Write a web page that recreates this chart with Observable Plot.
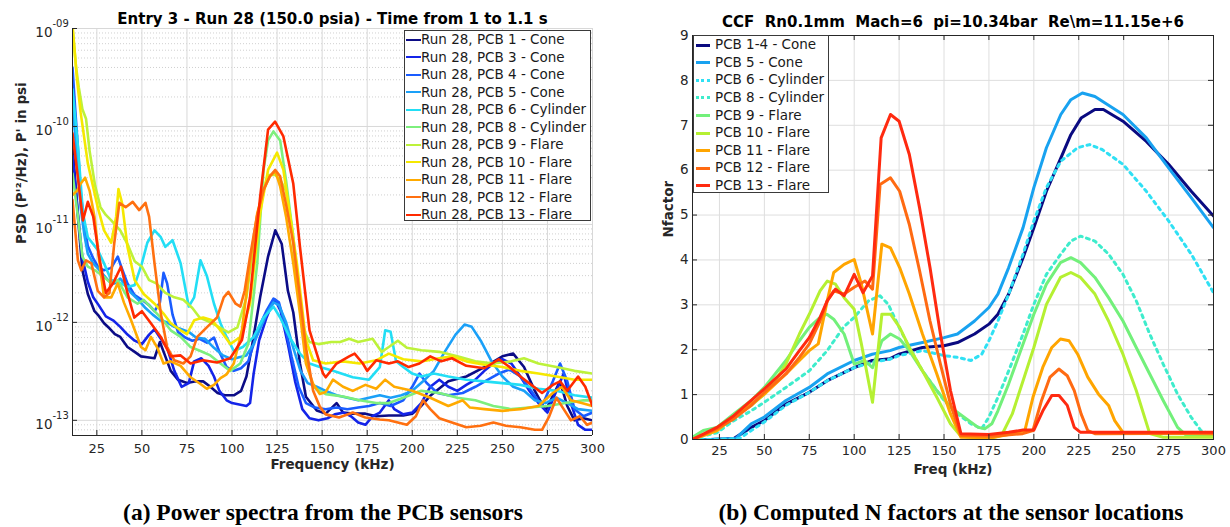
<!DOCTYPE html>
<html>
<head>
<meta charset="utf-8">
<script src="https://cdn.jsdelivr.net/npm/d3@7"></script>
<script src="https://cdn.jsdelivr.net/npm/@observablehq/plot@0.6"></script>
<style>
  html,body{margin:0;padding:0;background:#fff;}
  body{width:1230px;height:527px;position:relative;overflow:hidden;font-family:"DejaVu Sans",Verdana,sans-serif;}
  .panel{position:absolute;top:0;}
  .legend{position:absolute;background:#fff;border:1px solid #3a3a3a;box-sizing:border-box;color:#1a1a1a;}
  .row{position:absolute;white-space:nowrap;}
  .sw{position:absolute;}
  .caption{position:absolute;top:499px;line-height:26px;font-family:"Liberation Serif","Times New Roman",serif;font-weight:bold;font-size:23.5px;white-space:nowrap;transform:translateX(-50%);color:#000;}
</style>
</head>
<body>
<div id="left" class="panel" style="left:0"></div>
<div id="right" class="panel" style="left:615px"></div>
<div id="legL" class="legend"></div>
<div id="legR" class="legend"></div>
<div class="caption" style="left:323px">(a) Power spectra from the PCB sensors</div>
<div class="caption" style="left:951px">(b) Computed N factors at the sensor locations</div>
<script>
// ---------------- data: panel (a) PSD spectra ----------------
const freqTicks = [25, 50, 75, 100, 125, 150, 175, 200, 225, 250, 275, 300];
const psdTicks = [1e-13, 1e-12, 1e-11, 1e-10, 1e-9];
const psdTickBase = "10";
const psdTickExps = ["-13", "-12", "-11", "-10", "-09"];
const nTicks = [0, 1, 2, 3, 4, 5, 6, 7, 8, 9];

const psdNames = ["Run 28, PCB 1 - Cone", "Run 28, PCB 3 - Cone", "Run 28, PCB 4 - Cone", "Run 28, PCB 5 - Cone",
  "Run 28, PCB 6 - Cylinder", "Run 28, PCB 8 - Cylinder", "Run 28, PCB 9 - Flare", "Run 28, PCB 10 - Flare",
  "Run 28, PCB 11 - Flare", "Run 28, PCB 12 - Flare", "Run 28, PCB 13 - Flare"];

const psdPCB1 = [[11.5,6.5e-11],[13,2.8e-11],[14.5,1.2e-11],[17,3.4e-12],[20,1.95e-12],[23.7,1.3e-12],[26,1.17e-12],[29,9.8e-13],[32,8.7e-13],[35,7.6e-13],[38,7.1e-13],[42,5.6e-13],[46,5e-13],[49.5,4.5e-13],[53,4.4e-13],[57,4.3e-13],[60,6.3e-13],[63,4.5e-13],[66,3.2e-13],[70,2.6e-13],[75,2.4e-13],[80,2.5e-13],[84,2.5e-13],[88,2.2e-13],[92,1.9e-13],[96,1.8e-13],[101,1.8e-13],[105,2e-13],[108,2.8e-13],[111,5.6e-13],[115.6,1.8e-12],[120,4.7e-12],[124,8.7e-12],[127.6,6.3e-12],[131,2.1e-12],[134,1.26e-12],[137.7,3.8e-13],[141,1.74e-13],[147,1.26e-13],[152,1.17e-13],[158,1.5e-13],[161.6,1.2e-13],[167,1.17e-13],[174,1.17e-13],[180,1.1e-13],[187,1.12e-13],[195,1.12e-13],[200,1.17e-13],[205,1.4e-13],[210,1.78e-13],[220,2.5e-13],[230,2.8e-13],[240,3.5e-13],[250,4.5e-13],[256,4.8e-13],[262,3.5e-13],[268,2e-13],[274,1.26e-13],[278,1.78e-13],[282,2.5e-13],[286,1.4e-13],[290,1e-13],[295,1.05e-13],[300,1e-13]];
const psdPCB3 = [[11.5,5e-11],[14.5,1.3e-11],[17,4.5e-12],[20,2.6e-12],[23,1.8e-12],[26,1.5e-12],[30,1.15e-12],[34,1.05e-12],[38,9e-13],[42,7.5e-13],[46,6.5e-13],[50,6e-13],[54,7.5e-13],[57,8.5e-13],[60,7e-13],[64,5.5e-13],[68,3.2e-13],[72,2.2e-13],[76,2.4e-13],[79,4e-13],[83,4.3e-13],[87,3.6e-13],[90,2.8e-13],[93,2e-13],[97,1.6e-13],[100,1.5e-13],[104,1.45e-13],[108,1.4e-13],[110,1.5e-13],[112,3e-13],[115,6.5e-13],[119,1.1e-12],[122,1.5e-12],[124,1.7e-12],[127,1.3e-12],[131,6e-13],[135,2.5e-13],[139,1.3e-13],[143,1.05e-13],[148,1e-13],[153,1.05e-13],[157,1.15e-13],[162,1.2e-13],[166,1.1e-13],[170,9.5e-14],[174,9e-14],[178,1.1e-13],[182,1.2e-13],[187,1.6e-13],[190,1.3e-13],[195,1.15e-13],[200,1.2e-13],[205,1.5e-13],[210,2.2e-13],[215,2.6e-13],[220,2.2e-13],[225,2e-13],[230,2.3e-13],[235,2.6e-13],[240,3.2e-13],[245,3.8e-13],[250,4.2e-13],[255,3.8e-13],[260,2.8e-13],[265,2e-13],[270,1.5e-13],[275,1.2e-13],[280,2e-13],[284,3e-13],[288,1.5e-13],[292,9e-14],[296,8e-14],[300,8e-14]];
const psdPCB4 = [[11.5,4e-10],[13,1.5e-10],[14.5,6e-11],[16,2.2e-11],[18,1e-11],[20,6e-12],[23,4.5e-12],[26,3.6e-12],[29,3.4e-12],[33,3.6e-12],[36.6,4.7e-12],[39,3.5e-12],[42,2.5e-12],[46,1.9e-12],[50,1.7e-12],[54,1.5e-12],[57,1.3e-12],[60,1.6e-12],[62,3.2e-12],[64,2.5e-12],[67,1.2e-12],[70,8e-13],[74,7e-13],[78,6.5e-13],[82,6.8e-13],[86,6.2e-13],[90,7e-13],[93,5e-13],[97,3.5e-13],[101,3.2e-13],[105,3.4e-13],[109,4e-13],[112,6e-13],[115,9e-13],[119,1.3e-12],[123,1.75e-12],[126,1.6e-12],[129,1e-12],[133,4.5e-13],[137,2.2e-13],[141,1.5e-13],[146,1.35e-13],[152,1.3e-13],[158,1.35e-13],[164,1.3e-13],[170,1.35e-13],[176,1.4e-13],[182,1.5e-13],[188,1.4e-13],[195,1.6e-13],[200,2.2e-13],[204,3e-13],[208,2.4e-13],[214,1.9e-13],[220,1.8e-13],[228,1.9e-13],[235,2.2e-13],[242,2.6e-13],[248,3e-13],[254,3.3e-13],[260,2.8e-13],[266,2e-13],[272,1.4e-13],[278,2.5e-13],[282,3.8e-13],[286,2.5e-13],[290,1.3e-13],[295,1.1e-13],[300,1.2e-13]];
const psdPCB5 = [[11.5,1.8e-10],[13,8e-11],[14.5,3.5e-11],[16,1.5e-11],[18,8e-12],[20,5e-12],[23,4e-12],[26,3.5e-12],[29,3e-12],[32,2.6e-12],[35,2.5e-12],[38,2.8e-12],[41,2.4e-12],[44,2e-12],[48,1.7e-12],[52,1.4e-12],[56,1.2e-12],[60,1.05e-12],[64,1e-12],[68,9e-13],[72,8.5e-13],[76,8e-13],[80,7e-13],[85,6.8e-13],[90,5.5e-13],[95,4.6e-13],[100,4.2e-13],[104,4.4e-13],[108,4.6e-13],[112,6e-13],[116,9e-13],[120,1.3e-12],[123,1.6e-12],[126,1.5e-12],[130,1e-12],[134,5.5e-13],[138,3.2e-13],[142,2.4e-13],[147,2.2e-13],[152,2e-13],[158,1.8e-13],[164,1.7e-13],[170,1.6e-13],[176,1.7e-13],[182,1.8e-13],[188,1.7e-13],[194,1.8e-13],[200,2e-13],[206,2.5e-13],[212,3.2e-13],[218,5e-13],[224,7.5e-13],[229,9.5e-13],[233,9e-13],[238,6.5e-13],[244,4e-13],[250,2.8e-13],[256,2.2e-13],[262,2e-13],[268,1.6e-13],[274,1.5e-13],[280,1.7e-13],[286,1.5e-13],[292,1.3e-13],[300,1.25e-13]];
const psdPCB6 = [[11.5,2.4e-10],[14.5,6.3e-11],[17.3,1.3e-11],[20,7.4e-12],[25.5,5.5e-12],[29,4e-12],[33,2.7e-12],[36.6,2.6e-12],[42,2.3e-12],[46,2.4e-12],[50,4e-12],[53,6.5e-12],[57,8.7e-12],[60.5,7.4e-12],[63,5.9e-12],[67,6.9e-12],[71.5,4e-12],[76,1.45e-12],[79,1.8e-12],[82.5,4.3e-12],[86,3e-12],[90,1.55e-12],[93.6,9.8e-13],[97,7.1e-13],[101,5.1e-13],[106,5.6e-13],[112,7.1e-13],[117.5,1.12e-12],[123,1.45e-12],[126.7,1.12e-12],[132,7e-13],[137.7,4.8e-13],[143,3.8e-13],[148.7,3.5e-13],[156,3.2e-13],[167,2.75e-13],[176,2.6e-13],[182,3.5e-13],[185,8.3e-13],[188,8e-13],[191,4e-13],[195,3.5e-13],[200,3e-13],[205,2.8e-13],[212,3e-13],[220,2.8e-13],[230,2.6e-13],[240,2.5e-13],[250,2.4e-13],[260,2.3e-13],[270,2.1e-13],[280,2e-13],[290,1.8e-13],[300,1.7e-13]];
const psdPCB8 = [[11.5,3.3e-11],[14.5,1.2e-11],[17,4.7e-12],[20,3.7e-12],[24,3.4e-12],[29,2.9e-12],[33,2.5e-12],[36.6,2.7e-12],[42,1.8e-12],[47.6,1.55e-12],[51,1.7e-12],[57,1.3e-12],[60.5,1.12e-12],[66,8.3e-13],[71.5,7.1e-13],[77,5.6e-13],[82.5,5.1e-13],[88,4.6e-13],[93.6,3.8e-13],[99,3.2e-13],[104.6,3.8e-13],[109,6e-13],[114,4e-12],[117.5,3.6e-11],[120,7.2e-11],[123,8.9e-11],[126.7,7.2e-11],[130,2.8e-11],[134,7.4e-12],[137.7,1.8e-12],[141,4.1e-13],[145,2.2e-13],[152,1.85e-13],[161.6,1.75e-13],[170.8,1.6e-13],[180,1.5e-13],[187,1.5e-13],[195,1.7e-13],[205,2e-13],[215,1.9e-13],[225,1.7e-13],[235,1.6e-13],[245,1.4e-13],[255,1.3e-13],[265,1.35e-13],[275,1.4e-13],[285,1.5e-13],[295,1.6e-13],[300,1.6e-13]];
const psdPCB9 = [[11.5,1e-9],[13.5,4e-10],[15,2.5e-10],[17,1.5e-10],[19,1.2e-10],[21,5.6e-11],[24,2.5e-11],[27,1.5e-11],[30,1.25e-11],[33,1.1e-11],[38,8.7e-12],[42,6.3e-12],[46,4.2e-12],[50,3.7e-12],[54,2.7e-12],[58,2.5e-12],[63,2e-12],[68,1.8e-12],[73,1.7e-12],[78,1.4e-12],[82,1.12e-12],[88,1e-12],[93,8.9e-13],[98,7.9e-13],[103,8.9e-13],[108,1.8e-12],[112,6.3e-12],[116,1.8e-11],[120,3.2e-11],[124,3.2e-11],[127,2.8e-11],[130,2.2e-11],[133,1e-11],[136,2.5e-12],[139,8.9e-13],[143,6.3e-13],[148,6e-13],[155,6.3e-13],[160,6.3e-13],[165,6.8e-13],[170,6.3e-13],[178,6.8e-13],[183,5e-13],[187,5.6e-13],[192,6.5e-13],[197,5.5e-13],[205,5.2e-13],[215,5e-13],[225,4.5e-13],[235,4e-13],[245,3.8e-13],[255,4e-13],[262,4.3e-13],[270,3.8e-13],[280,3.5e-13],[290,3.2e-13],[300,3e-13]];
const psdPCB10 = [[11.5,1.1e-9],[14,3e-10],[16,1.4e-10],[20,4.2e-11],[25.5,1.5e-11],[29,8.7e-12],[33,6.5e-12],[35.7,1.2e-11],[37,2.3e-11],[39,1.65e-11],[42,5.9e-12],[46,2.7e-12],[51,1.95e-12],[57,1.55e-12],[62,1.23e-12],[66,9.8e-13],[71.5,8.3e-13],[75,7.6e-13],[79,1.05e-12],[84,1.12e-12],[89,1.05e-12],[93.6,8.3e-13],[99,6e-13],[104.6,7.1e-13],[110,1.55e-12],[115.6,1.3e-11],[120,3.6e-11],[125,5.4e-11],[128.5,3.6e-11],[132,1.3e-11],[136,4e-12],[141,6.6e-13],[145,4.1e-13],[152,3.8e-13],[161.6,4e-13],[170.8,3.8e-13],[180,4.1e-13],[187,4.8e-13],[195,4.2e-13],[205,4e-13],[215,4.3e-13],[222,4.5e-13],[230,4e-13],[240,3.7e-13],[250,3.5e-13],[260,3.2e-13],[270,3e-13],[280,2.8e-13],[290,2.6e-13],[300,2.6e-13]];
const psdPCB11 = [[11.5,2e-11],[14,2.2e-11],[16,2.6e-11],[18.5,3e-11],[21,2.2e-11],[23.7,1.2e-11],[26.5,4e-12],[29,1.8e-12],[33,1.8e-12],[36.6,2.5e-12],[40,1.6e-12],[44,1.05e-12],[49.5,5.6e-13],[52,5.2e-13],[55,7.1e-13],[58.6,5.5e-13],[62,3.8e-13],[66,4e-13],[71.5,3.6e-13],[77,2.75e-13],[82.5,2.35e-13],[86,2.1e-13],[90,2.3e-13],[93.6,2.7e-13],[97,2.95e-13],[101,3.8e-13],[105.5,8.3e-13],[110,4e-12],[114,1.3e-11],[117.5,2.25e-11],[121,3.1e-11],[124,3.5e-11],[126.7,2.45e-11],[130,1.2e-11],[134,4e-12],[137.7,1.23e-12],[141,3.8e-13],[145,2.35e-13],[148.7,1.86e-13],[152,1.95e-13],[156,2.6e-13],[161.6,2.2e-13],[167,2e-13],[174,2.3e-13],[180,2.1e-13],[185,2.6e-13],[190,2.2e-13],[200,2e-13],[210,1.7e-13],[220,1.4e-13],[228,1.6e-13],[232,1.35e-13],[240,1.3e-13],[250,1.25e-13],[260,1.3e-13],[270,1.4e-13],[278,1.9e-13],[283,2.2e-13],[288,1.6e-13],[294,1.5e-13],[300,1.4e-13]];
const psdPCB12 = [[11.5,1.78e-11],[14.5,4.3e-12],[16.4,3.4e-12],[19,4.3e-12],[22,4e-12],[25.5,2.1e-12],[29,1.8e-12],[32,2e-12],[34.7,6.5e-12],[37.5,1.66e-11],[41,1.5e-11],[44.9,1.7e-11],[48.5,1.4e-11],[52,1.66e-11],[54,1.2e-11],[57,4e-12],[60.5,1.23e-12],[64,5.6e-13],[68,4.1e-13],[73,3.8e-13],[77,4.5e-13],[80.7,7.1e-13],[86,8.9e-13],[91.7,1.12e-12],[95.4,1.8e-12],[98,2.05e-12],[102,1.55e-12],[104.6,1.45e-12],[107,2.1e-12],[110,4.7e-12],[113.8,1.2e-11],[117.5,2.25e-11],[121,3.1e-11],[124,3.6e-11],[126.7,3.1e-11],[130,1.6e-11],[134,6.5e-12],[137.7,1.8e-12],[141,5.6e-13],[145,2e-13],[148.7,1.38e-13],[152,1.15e-13],[159.4,1.07e-13],[167,1.2e-13],[174,1.07e-13],[182,1.02e-13],[187,1e-13],[192,9.5e-14],[197,9e-14],[202,1.1e-13],[206,1.6e-13],[210,1.3e-13],[215,1.05e-13],[222,9.5e-14],[230,8.5e-14],[238,8.8e-14],[245,9.5e-14],[252,8.8e-14],[260,8.5e-14],[268,8e-14],[272,8e-14],[276,1.1e-13],[280,1.7e-13],[284,1.3e-13],[288,1e-13],[293,1.1e-13],[297,9e-14],[300,9.5e-14]];
const psdPCB13 = [[11.5,8.5e-11],[14.5,3e-11],[17.3,1.1e-11],[20,1.7e-11],[23,1.2e-11],[26,5e-12],[30,2e-12],[34,2.5e-12],[38.4,3.7e-12],[42,2e-12],[45.8,1.12e-12],[50,1.3e-12],[55,9.8e-13],[60.5,7.1e-13],[66,4.5e-13],[71.5,4.6e-13],[77,3.8e-13],[84,4.1e-13],[91.7,3.9e-13],[99,4.3e-13],[105.5,6.6e-13],[110,1.8e-12],[115.6,1.9e-11],[120,9.3e-11],[123.9,1.12e-10],[128.5,7.9e-11],[134,2.6e-11],[137.7,5.9e-12],[143,8.3e-13],[150.5,3e-13],[152,2.75e-13],[158,3.8e-13],[165,4.5e-13],[168,4.8e-13],[172.6,3.8e-13],[175,3.2e-13],[180,4.1e-13],[187,3.8e-13],[192,4e-13],[198,3.5e-13],[204,3.8e-13],[210,4.5e-13],[216,4e-13],[222,4.3e-13],[230,3.6e-13],[240,3.4e-13],[248,4.2e-13],[254,3.5e-13],[260,2.8e-13],[266,2.3e-13],[272,1.9e-13],[278,2.3e-13],[282,2.5e-13],[286,2e-13],[292,2.8e-13],[296,2.2e-13],[300,1.4e-13]];

// ---------------- data: panel (b) N factors ----------------
const nNames = ["PCB 1-4 - Cone", "PCB 5 - Cone", "PCB 6 - Cylinder", "PCB 8 - Cylinder", "PCB 9 - Flare",
  "PCB 10 - Flare", "PCB 11 - Flare", "PCB 12 - Flare", "PCB 13 - Flare"];
const nPCB1to4 = [[10,0],[20,0],[33,0.02],[42.7,0.27],[50,0.42],[62,0.79],[75,1.05],[85,1.31],[100,1.6],[110,1.76],[120,1.8],[125,1.9],[138,2.05],[150,2.09],[157.5,2.16],[167,2.35],[175,2.57],[180,2.79],[186,3.24],[194,4.05],[200,4.72],[207,5.53],[215,6.27],[220.6,6.79],[226.3,7.16],[234,7.35],[238.7,7.35],[249.6,7.09],[262.6,6.64],[275,6.13],[287.6,5.53],[300,4.98]];
const nPCB5 = [[10,0],[20,0],[34,0.02],[42.7,0.35],[50,0.5],[62,0.87],[75,1.16],[85,1.46],[100,1.76],[110,1.9],[120,1.98],[125,2.05],[138,2.16],[150,2.27],[157.5,2.35],[167,2.64],[175,2.94],[180,3.24],[186,3.83],[194,4.72],[200,5.61],[207,6.5],[215,7.24],[220.6,7.57],[227,7.72],[234,7.64],[249.6,7.24],[262.6,6.72],[275,6.05],[287.6,5.39],[300,4.72]];
const nPCB6 = [[10,0],[20,0],[36,0.02],[42.7,0.2],[50,0.39],[62,0.76],[75,1.05],[85,1.31],[100,1.6],[110,1.72],[120,1.79],[125,1.87],[138,1.98],[150,1.87],[157.5,1.83],[165,1.76],[171,1.9],[175,2.2],[180,2.64],[186,3.24],[194,4.13],[200,4.87],[207,5.61],[215,6.2],[224.4,6.5],[231,6.57],[238,6.46],[249.6,6.13],[262.6,5.53],[275,4.87],[287.6,4.13],[300,3.27]];
const nPCB8 = [[10,0.05],[16,0.08],[23.6,0.15],[33,0.42],[42.7,0.64],[50,0.83],[62,1.16],[75,1.53],[85,1.98],[94,2.5],[100,2.72],[108,3.09],[114.4,3.2],[119,3.01],[125,2.5],[130.7,2.05],[138,1.53],[146,1.09],[150,0.87],[157.5,0.57],[165,0.35],[171,0.24],[175,0.5],[180,0.94],[186,1.53],[194,2.35],[200,3.01],[207,3.68],[215,4.13],[220.6,4.42],[226,4.53],[234,4.42],[241.6,4.13],[249.6,3.68],[257,3.09],[264.5,2.35],[272,1.68],[280,1.01],[287.5,0.5],[293,0.2],[300,0.09]];
const nPCB9 = [[10,0.05],[16,0.2],[23.6,0.27],[33,0.57],[42.7,0.87],[50,1.16],[56,1.46],[62,1.76],[69.5,2.2],[75,2.5],[81,2.72],[84.8,2.79],[88.6,2.68],[94.4,2.35],[100,1.68],[105.8,1.76],[110.2,1.6],[115.4,2.2],[120.2,2.35],[125.3,2.24],[130.7,1.98],[138,1.53],[146,1.09],[153.6,0.72],[161,0.5],[169,0.27],[172.7,0.24],[176.6,0.35],[180,0.64],[186,1.24],[194,2.13],[200,2.79],[207,3.46],[214.8,3.94],[220.6,4.05],[226,3.94],[234,3.61],[241.6,3.16],[249.6,2.64],[257,2.05],[264.5,1.46],[272,0.87],[280,0.27],[285.5,0.07],[300,0.07]];
const nPCB10 = [[10,0],[23.6,0.2],[33,0.5],[42.7,0.76],[50,1.01],[56,1.31],[62,1.68],[69.5,2.35],[75,2.79],[81,3.31],[85,3.53],[89.6,3.46],[94.4,3.16],[100,2.9],[104,2.13],[110.2,0.83],[115.4,2.79],[120.2,2.79],[125.3,2.5],[130.7,2.05],[138,1.53],[146,0.94],[153.6,0.35],[159.4,0.07],[168,0.04],[176.6,0.04],[182,0.09],[188,0.57],[194,1.31],[200,2.05],[207,3.01],[214.8,3.61],[220.6,3.72],[226,3.61],[234,3.24],[241.6,2.64],[249.6,1.9],[257,1.09],[264.5,0.13],[272,0.05],[300,0.05]];
const nPCB11 = [[10,0],[23.6,0.2],[33,0.5],[42.7,0.79],[50,1.01],[62,1.46],[69.5,1.76],[75,1.98],[80,2.13],[85,3.09],[88.6,3.72],[94.4,3.9],[100,4.01],[104,3.46],[110.2,2.35],[115.4,4.35],[120.2,4.27],[125.3,3.83],[130.7,3.24],[138,2.35],[146,1.46],[153.6,0.57],[159.4,0.05],[176.6,0.04],[188,0.13],[195,0.2],[199.5,0.94],[205,1.61],[210,2.05],[214.8,2.24],[219.6,2.2],[224.4,1.9],[230,1.39],[236,1.01],[241.6,0.76],[245,0.42],[249.6,0.16],[300,0.12]];
const nPCB12 = [[10,0],[23.6,0.24],[33,0.46],[42.7,0.76],[50,1.05],[62,1.46],[69.5,1.83],[75,2.13],[81,2.64],[85,3.09],[88.6,3.31],[94.4,3.24],[100,3.39],[106,3.53],[110.2,3.35],[114.4,5.68],[120.2,5.83],[125.3,5.53],[130.7,4.79],[136.4,3.76],[142.2,2.64],[148,1.68],[153.6,0.79],[159.4,0.09],[176.6,0.07],[193.8,0.13],[199.5,0.2],[204.3,0.87],[209,1.39],[213.9,1.57],[218.6,1.42],[222.5,1.09],[226.3,0.57],[230,0.2],[234,0.13],[300,0.14]];
const nPCB13 = [[10,0],[23.6,0.27],[33,0.53],[42.7,0.87],[50,1.13],[56,1.35],[62,1.57],[69.5,1.98],[75,2.27],[81,2.72],[85,3.09],[89.6,3.35],[94.4,3.2],[100,3.68],[104.9,3.27],[110.2,3.64],[115,6.72],[120.2,7.24],[125,7.09],[130.7,6.35],[136.4,5.16],[142.2,3.83],[148,2.35],[153.6,1.09],[159.4,0.13],[175,0.11],[186,0.16],[194,0.21],[200,0.21],[205,0.64],[210,0.98],[214,0.98],[218.6,0.76],[222.5,0.27],[226,0.16],[300,0.16]];

// ---------------- styles ----------------
const psdSeries = [psdPCB1, psdPCB3, psdPCB4, psdPCB5, psdPCB6, psdPCB8, psdPCB9, psdPCB10, psdPCB11, psdPCB12, psdPCB13];
const psdColors = ["#0c0c86", "#1424e8", "#1a5cff", "#1aa0f8", "#22def5", "#7def7d", "#bdf23a", "#f5e800", "#ffaa00", "#ff7010", "#ff2a00"];
const nSeries = [nPCB1to4, nPCB5, nPCB6, nPCB8, nPCB9, nPCB10, nPCB11, nPCB12, nPCB13];
const nColors = ["#0a0a80", "#18a2f0", "#2fe0f4", "#3eeccc", "#72f07a", "#b5f032", "#ffa500", "#ff6a12", "#ff2a10"];
const nDashed = [false, false, true, true, false, false, false, false, false];

const axisColor = "#262626";
const baseStyle = {fontFamily: "DejaVu Sans, Verdana, sans-serif", fontSize: "13px", color: axisColor, background: "transparent", overflow: "visible"};
const minorPsd = [];
for (let e = -14; e <= -10; e++) for (let m = 2; m <= 9; m++) { const v = m * Math.pow(10, e); if (v > 7e-14 && v < 1e-9) minorPsd.push(v); }

// ---------------- panel (a) ----------------
const LW = 615, LH = 480, Lx0 = 72, Lx1 = 592, Ly0 = 28, Ly1 = 435;
const psdXDomain = [11.5, 300], psdYDomain = [7e-14, 1e-9];
const left = Plot.plot({
  width: LW, height: LH,
  marginLeft: Lx0, marginRight: LW - Lx1, marginTop: Ly0, marginBottom: LH - Ly1,
  style: baseStyle,
  x: {domain: psdXDomain},
  y: {type: "log", domain: psdYDomain, axis: null},
  marks: [
    Plot.gridY(minorPsd, {stroke: "#c4c4c4", strokeOpacity: 1, strokeWidth: 0.8, strokeDasharray: "1,2"}),
    Plot.gridY(psdTicks, {stroke: "#d8d8d8", strokeOpacity: 1}),
    Plot.gridX(freqTicks, {stroke: "#d8d8d8", strokeOpacity: 1}),
    ...psdSeries.map((s, i) => Plot.line(s, {x: d => d[0], y: d => d[1], stroke: psdColors[i], strokeWidth: 2.6, strokeLinejoin: "round", clip: true})),
    Plot.ruleX([psdXDomain[0]], {stroke: axisColor}),
    Plot.ruleY([psdYDomain[0]], {stroke: axisColor}),
    Plot.tickX(freqTicks, {x: d => d, insetTop: (Ly1 - Ly0) - 5, stroke: axisColor}),
    Plot.tickY(psdTicks, {y: d => d, insetRight: (Lx1 - Lx0) - 5, stroke: axisColor}),
    Plot.axisX(freqTicks, {tickSize: 0, tickPadding: 8, label: null, fill: axisColor}),
    Plot.text(psdTicks, {y: d => d, frameAnchor: "left", text: () => psdTickBase, textAnchor: "end", dx: -20, dy: 4, fontSize: 13.5, fill: axisColor}),
    Plot.text(psdTicks, {y: d => d, frameAnchor: "left", text: (d, i) => psdTickExps[i], textAnchor: "start", dx: -20, dy: -5, fontSize: 10, fill: axisColor}),
    Plot.text(["Entry 3 - Run 28 (150.0 psia) - Time from 1 to 1.1 s"], {text: d => d, frameAnchor: "top", dy: -15, fontWeight: "bold", fontSize: 15, fill: "#000"}),
    Plot.text(["Frequency (kHz)"], {text: d => d, frameAnchor: "bottom", dy: 33, fontWeight: "bold", fontSize: 13.5, fill: axisColor}),
    Plot.text(["PSD (P'²/Hz), P' in psi"], {text: d => d, frameAnchor: "left", dx: -51, dy: 12, rotate: -90, fontWeight: "bold", fontSize: 13.5, fill: axisColor})
  ]
});
document.getElementById("left").appendChild(left);

// ---------------- panel (b) ----------------
const RW = 615, RH = 480, Rx0 = 692 - 615, Rx1 = 1213 - 615, Ry0 = 35, Ry1 = 439;
const right = Plot.plot({
  width: RW, height: RH,
  marginLeft: Rx0, marginRight: RW - Rx1, marginTop: Ry0, marginBottom: RH - Ry1,
  style: baseStyle,
  x: {domain: [10, 300]},
  y: {domain: [0, 9]},
  marks: [
    Plot.gridX(freqTicks, {stroke: "#dedede", strokeOpacity: 1}),
    Plot.gridY(nTicks, {stroke: "#dedede", strokeOpacity: 1}),
    ...nSeries.map((s, i) => Plot.line(s, {x: d => d[0], y: d => d[1], stroke: nColors[i], strokeWidth: 3, strokeLinejoin: "round", strokeDasharray: nDashed[i] ? "3,4.5" : null, clip: true})),
    Plot.frame({stroke: axisColor}),
    Plot.tickX(freqTicks, {x: d => d, insetTop: (Ry1 - Ry0) - 5, stroke: axisColor}),
    Plot.tickX(freqTicks, {x: d => d, insetBottom: (Ry1 - Ry0) - 5, stroke: axisColor}),
    Plot.tickY(nTicks, {y: d => d, insetRight: (Rx1 - Rx0) - 5, stroke: axisColor}),
    Plot.tickY(nTicks, {y: d => d, insetLeft: (Rx1 - Rx0) - 5, stroke: axisColor}),
    Plot.axisX(freqTicks, {tickSize: 0, tickPadding: 6, label: null, fill: axisColor}),
    Plot.axisY(nTicks, {tickSize: 0, tickPadding: 4, label: null, fill: axisColor, fontSize: 13.5}),
    Plot.text(["CCF  Rn0.1mm  Mach=6  pi=10.34bar  Re\\m=11.15e+6"], {text: d => d, frameAnchor: "top", dy: -19, fontWeight: "bold", fontSize: 15, fill: "#000"}),
    Plot.text(["Freq (kHz)"], {text: d => d, frameAnchor: "bottom", dy: 34, fontWeight: "bold", fontSize: 13.5, fill: axisColor}),
    Plot.text(["Nfactor"], {text: d => d, frameAnchor: "left", dx: -24, rotate: -90, fontWeight: "bold", fontSize: 13.5, fill: axisColor})
  ]
});
document.getElementById("right").appendChild(right);

// ---------------- legends ----------------
function buildLegend(el, box, names, colors, dashed, lineW) {
  Object.assign(el.style, {left: box.x + "px", top: box.y + "px", width: box.w + "px", height: box.h + "px", fontSize: box.fs + "px"});
  names.forEach((name, i) => {
    const cy = box.first + box.step * i - box.y - 1;
    const sw = document.createElement("div");
    sw.className = "sw";
    Object.assign(sw.style, {left: box.swx + "px", width: box.sww + "px", top: (cy - lineW / 2) + "px", height: "0px",
      borderTop: lineW + "px " + (dashed && dashed[i] ? "dotted " : "solid ") + colors[i]});
    el.appendChild(sw);
    const tx = document.createElement("div");
    tx.className = "row";
    tx.textContent = name;
    Object.assign(tx.style, {left: box.tx + "px", top: (cy - box.step / 2) + "px", lineHeight: box.step + "px"});
    el.appendChild(tx);
  });
}
buildLegend(document.getElementById("legL"), {x: 404, y: 30, w: 187, h: 191, first: 40, step: 17.5, swx: 1, sww: 15, tx: 16, fs: 13.5}, psdNames, psdColors, null, 2.6);
buildLegend(document.getElementById("legR"), {x: 693, y: 35, w: 136, h: 158, first: 45, step: 17.6, swx: 2, sww: 14, tx: 21, fs: 13.5}, nNames, nColors, nDashed, 3);
</script>
</body>
</html>
